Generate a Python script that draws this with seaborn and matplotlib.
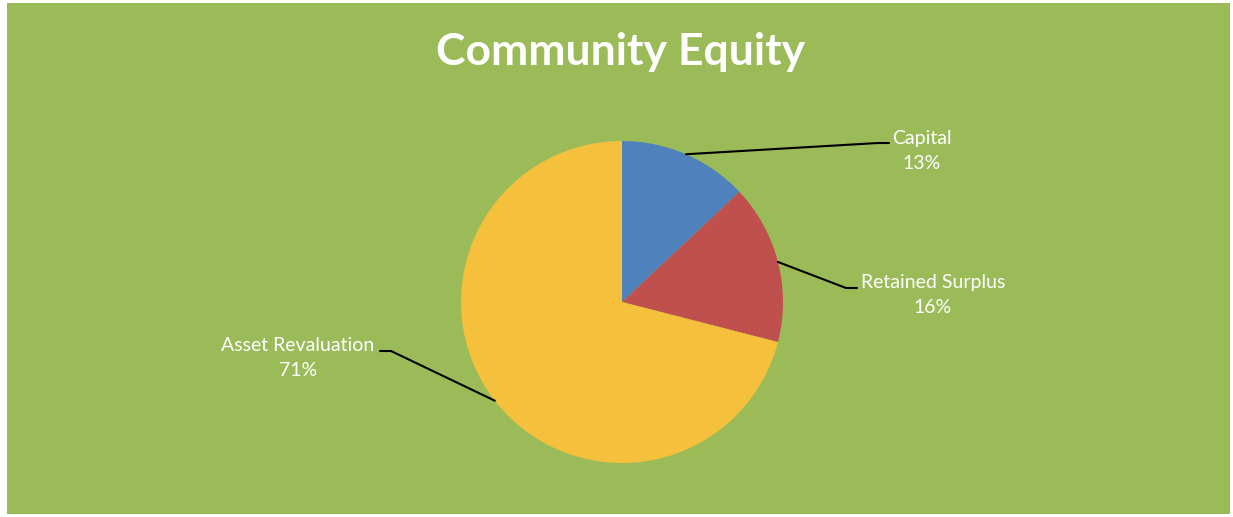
import numpy as np
import matplotlib
matplotlib.use("Agg")
import matplotlib.pyplot as plt
import seaborn as sns

# ---- data ----
categories = ["Capital", "Retained Surplus", "Asset Revaluation"]
shares = [13, 16, 71]
title = "Community Equity"

colors = ["#4F81BD", "#C0504D", "#F5C03B"]
bg_green = "#9BBB59"

sns.set_style("white")
plt.rcParams['font.family'] = ['Lato', 'DejaVu Sans']

W, H = 1233, 517
fig = plt.figure(figsize=(W / 100, H / 100), dpi=100, facecolor="white")
ax = fig.add_axes([0, 0, 1, 1])

# green chart area
ax.add_patch(plt.Rectangle((7, 3), 1223, 511, facecolor=bg_green, edgecolor="none", zorder=0))

cx, cy, r = 622, H - 302, 161
wedges, _ = ax.pie(shares, colors=colors, startangle=90, counterclock=False,
                   center=(cx, cy), radius=r, frame=True,
                   wedgeprops=dict(linewidth=0))
ax.set_xlim(0, W)
ax.set_ylim(0, H)
ax.set_aspect("equal")
ax.axis("off")

# label placement (text centre, elbow point, elbow end)
label_cfg = [
    dict(text_xy=(922, H - 151), elbow=(878, H - 143), end=(889, H - 143)),
    dict(text_xy=(933, H - 295), elbow=(846, H - 288), end=(857, H - 288)),
    dict(text_xy=(298, H - 358), elbow=(391, H - 351), end=(380, H - 351)),
]

for w, cat, val, cfg in zip(wedges, categories, shares, label_cfg):
    mid = np.deg2rad((w.theta1 + w.theta2) / 2)
    ax_x = cx + r * np.cos(mid)
    ax_y = cy + r * np.sin(mid)
    ex, ey = cfg["elbow"]
    fx, fy = cfg["end"]
    ax.plot([ax_x, ex, fx], [ax_y, ey, fy], color="black", lw=1.5, zorder=3)
    ax.text(cfg["text_xy"][0], cfg["text_xy"][1], f"{cat}\n{val}%", color="white",
            fontsize=14, ha="center", va="center", linespacing=1.6, zorder=4)

ax.text(621, H - 52, title, color="white", fontsize=32, fontweight="bold",
        ha="center", va="center", zorder=4)

fig.savefig("out.png", dpi=100, facecolor="white")
